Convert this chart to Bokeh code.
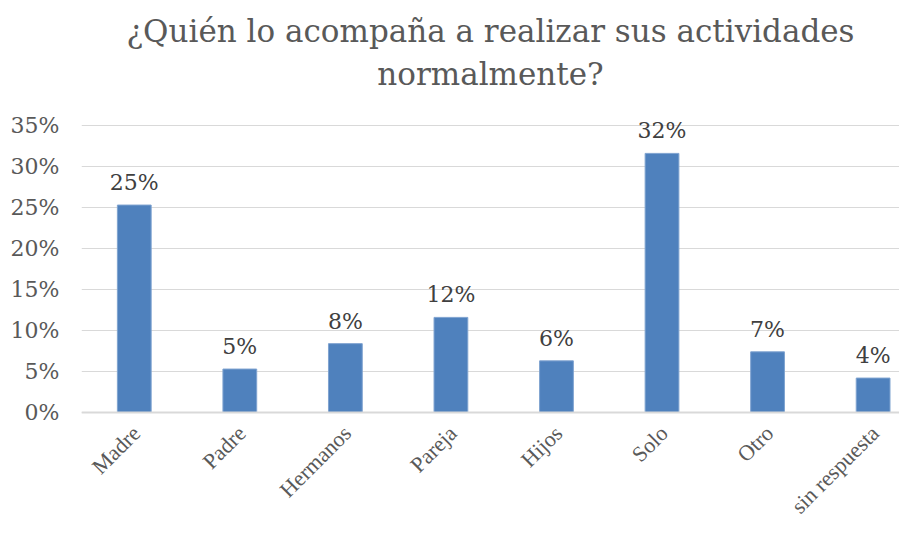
from bokeh.plotting import figure
from bokeh.models import (ColumnDataSource, NumeralTickFormatter, Title, FixedTicker,
                          LabelSet, Range1d, Span)
from bokeh.core.properties import value
from bokeh.embed import file_html
from bokeh.resources import INLINE
import math

categories = ["Madre", "Padre", "Hermanos", "Pareja", "Hijos", "Solo", "Otro", "sin respuesta"]
values = [0.253, 0.053, 0.084, 0.116, 0.063, 0.316, 0.074, 0.042]
labels = ["25%", "5%", "8%", "12%", "6%", "32%", "7%", "4%"]
y_ticks = [0, 0.05, 0.10, 0.15, 0.20, 0.25, 0.30, 0.35]

FONT = "DejaVu Serif"
XFONT = "Liberation Serif"

xpos = list(range(len(categories)))
zeros = [0] * len(categories)
src = ColumnDataSource(dict(x=xpos, cat=categories, val=values, lab=labels, zero=zeros))

# frame spans from below the titles to the bottom edge; y range chosen so that
# 0% sits at ~412px and 35% at ~125px
p = figure(x_range=Range1d(-0.5, 7.25), y_range=Range1d(-0.1329, 0.3805),
           width=899, height=521,
           output_backend="svg", toolbar_location=None,
           min_border_left=81, min_border_right=0, min_border_bottom=0,
           min_border_top=100)
p.outline_line_color = None
p.background_fill_color = "white"

p.ygrid.grid_line_color = "#d9d9d9"
p.ygrid.grid_line_width = 1
p.xgrid.grid_line_color = None

p.add_layout(Span(location=0, dimension="width", line_color="#d9d9d9", line_width=2))

p.vbar(x="x", top="val", width=0.32, source=src,
       fill_color="#4f81bd", line_color="#7fa3d0", line_width=1)

ls = LabelSet(x="x", y="val", text="lab", source=src, text_align="center",
              text_baseline="bottom", y_offset=10, text_font=value(FONT),
              text_font_size="22px", text_color="#404040")
p.add_layout(ls)

xl = LabelSet(x="x", y="zero", text="cat", source=src, text_align="right",
              text_baseline="middle", angle=math.pi / 4, x_offset=2, y_offset=-17,
              text_font=value(XFONT), text_font_size="22px", text_color="#595959")
p.add_layout(xl)

t2 = Title(text="normalmente?", align="center", text_font=FONT,
           text_font_size="31px", text_font_style="normal", text_color="#595959",
           standoff=17, offset=-12)
t1 = Title(text="¿Quién lo acompaña a realizar sus actividades", align="center",
           text_font=FONT, text_font_size="31px", text_font_style="normal",
           text_color="#595959", standoff=-7, offset=-12)
p.add_layout(t2, "above")
p.add_layout(t1, "above")

p.yaxis.ticker = FixedTicker(ticks=y_ticks)
p.yaxis.formatter = NumeralTickFormatter(format="0%")
p.yaxis.axis_line_color = None
p.yaxis.major_tick_line_color = None
p.yaxis.minor_tick_line_color = None
p.yaxis.major_label_text_font = FONT
p.yaxis.major_label_text_font_size = "22px"
p.yaxis.major_label_text_color = "#595959"
p.yaxis.major_label_standoff = 16

p.xaxis.visible = False

open("out.html", "w").write(file_html(p, INLINE))
